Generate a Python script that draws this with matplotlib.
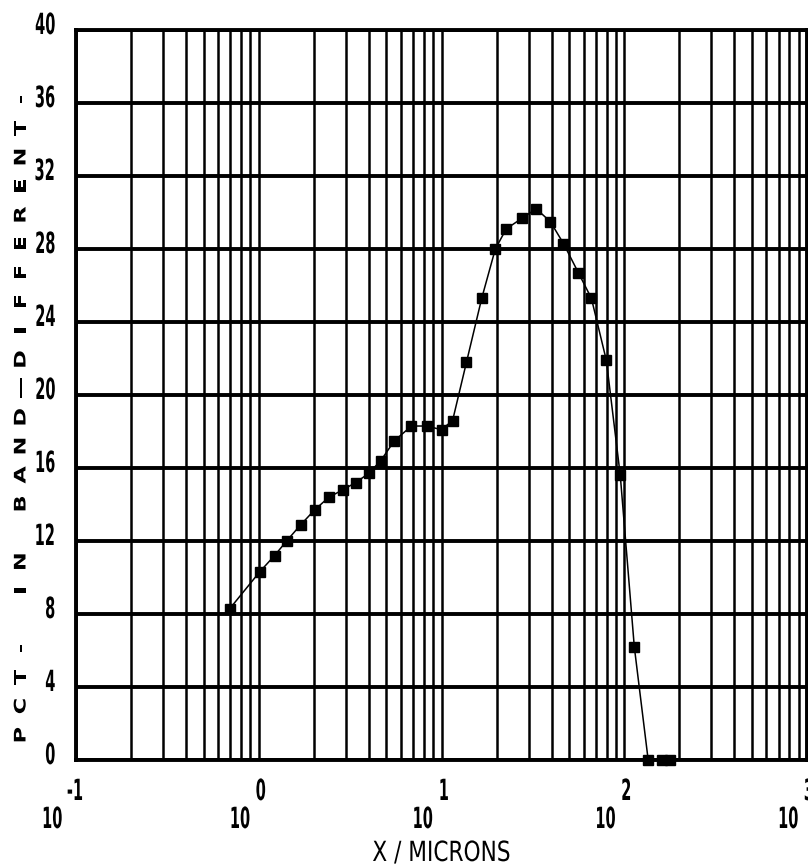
import matplotlib
matplotlib.use("Agg")
import matplotlib.pyplot as plt
from matplotlib.ticker import LogLocator, NullFormatter
from matplotlib.patheffects import AbstractPathEffect
from matplotlib.transforms import Affine2D

# ---- data ----
size_microns = [0.695, 1.01, 1.22, 1.42, 1.70, 2.02, 2.42, 2.88, 3.39, 3.99,
                4.65, 5.53, 6.85, 8.28, 10.0, 11.5, 13.7, 16.6, 19.7, 22.6,
                27.7, 33.0, 39.4, 46.5, 56.1, 66.1, 79.8, 95.1, 113.5, 135.2,
                161.4, 178.2]
pct_in_band = [8.3, 10.3, 11.2, 12.0, 12.9, 13.7, 14.4, 14.8, 15.2, 15.7,
               16.4, 17.5, 18.3, 18.3, 18.1, 18.6, 21.8, 25.3, 28.0, 29.1,
               29.7, 30.2, 29.5, 28.3, 26.7, 25.3, 21.9, 15.6, 6.2, 0.0,
               0.0, 0.0]
y_ticks = [0, 4, 8, 12, 16, 20, 24, 28, 32, 36, 40]
x_decades = [0.1, 1, 10, 100, 1000]
x_exponents = ["-1", "0", "1", "2", "3"]
y_label = "PCT- IN BAND\u2014DIFFERENT-"
x_label = "X / MICRONS"


class Stretch(AbstractPathEffect):
    """Scale glyph outlines along the text direction (plotter-like lettering)."""

    def __init__(self, sx, anchor="center"):
        super().__init__()
        self.sx = sx
        self.anchor = anchor

    def draw_path(self, renderer, gc, tpath, affine, rgbFace=None):
        ext = tpath.get_extents()
        if self.anchor == "right":
            ax0 = ext.x1
        elif self.anchor == "left":
            ax0 = ext.x0
        else:
            ax0 = 0.5 * (ext.x0 + ext.x1)
        pre = Affine2D().translate(-ax0, 0).scale(self.sx, 1.0).translate(ax0, 0)
        renderer.draw_path(gc, tpath, pre + affine, rgbFace)


FONT = "DejaVu Sans"
NUM_SIZE = 21
NUM_SX = 0.5
W, H = 808, 868
fig = plt.figure(figsize=(W / 100, H / 100), dpi=100)
L, R, T, B = 76, 807, 30, 760
ax = fig.add_axes([L / W, (H - B) / H, (R - L) / W, (B - T) / H])

ax.plot(size_microns, pct_in_band, color="black", lw=1.1, marker="s",
        markersize=6.5, markerfacecolor="black", markeredgecolor="black",
        zorder=5, clip_on=False)

ax.set_xscale("log")
ax.set_xlim(0.1, 1000)
ax.set_ylim(0, 40)
ax.xaxis.set_major_locator(LogLocator(base=10, numticks=10))
ax.xaxis.set_minor_locator(LogLocator(base=10, subs=range(2, 10), numticks=50))
ax.xaxis.set_major_formatter(NullFormatter())
ax.xaxis.set_minor_formatter(NullFormatter())
ax.grid(True, which="both", axis="x", color="black", lw=1.8)
ax.set_yticks(y_ticks)
ax.yaxis.set_major_formatter(NullFormatter())
ax.grid(True, which="major", axis="y", color="black", lw=2.8)
ax.tick_params(axis="both", which="both", length=0)
for s in ax.spines.values():
    s.set_linewidth(2.8)
    s.set_color("black")

# y tick labels
for v in y_ticks:
    t = ax.annotate(str(v), xy=(0, v), xycoords=("axes fraction", "data"),
                    xytext=(-20, 4), textcoords="offset pixels",
                    ha="right", va="center", fontfamily=FONT,
                    fontsize=NUM_SIZE, fontweight="bold",
                    annotation_clip=False)
    t.set_path_effects([Stretch(NUM_SX, "right")])

# x tick labels: 10 with exponent
for xv, ex in zip(x_decades, x_exponents):
    shift = -5 if len(ex) > 1 else 0
    a = ax.annotate("10", xy=(xv, 0), xycoords=("data", "axes fraction"),
                    xytext=(-8 + shift, -60), textcoords="offset pixels",
                    ha="right", va="center", fontfamily=FONT,
                    fontsize=NUM_SIZE, fontweight="bold",
                    annotation_clip=False)
    a.set_path_effects([Stretch(NUM_SX, "right")])
    b = ax.annotate(ex, xy=(xv, 0), xycoords=("data", "axes fraction"),
                    xytext=(2 + shift / 1.7, -32), textcoords="offset pixels",
                    ha="center", va="center", fontfamily=FONT,
                    fontsize=NUM_SIZE, fontweight="bold",
                    annotation_clip=False)
    b.set_path_effects([Stretch(NUM_SX, "center")])

xl = ax.annotate(x_label, xy=(10, 0), xycoords=("data", "axes fraction"),
                 xytext=(0, -93), textcoords="offset pixels",
                 ha="center", va="center", fontfamily=FONT, fontsize=20,
                 annotation_clip=False)
xl.set_path_effects([Stretch(0.78, "center")])

# y label, plotter style with wide letter spacing
pitch = 28.9
y0 = 735
for i, ch in enumerate(y_label):
    if ch == " ":
        continue
    t = fig.text(21 / W, (H - (y0 - i * pitch)) / H, ch, rotation=90,
                 ha="center", va="center", fontfamily=FONT,
                 fontweight="bold", fontsize=11.5)
    t.set_path_effects([Stretch(1.4, "center")])

fig.savefig("out.png", dpi=100)
